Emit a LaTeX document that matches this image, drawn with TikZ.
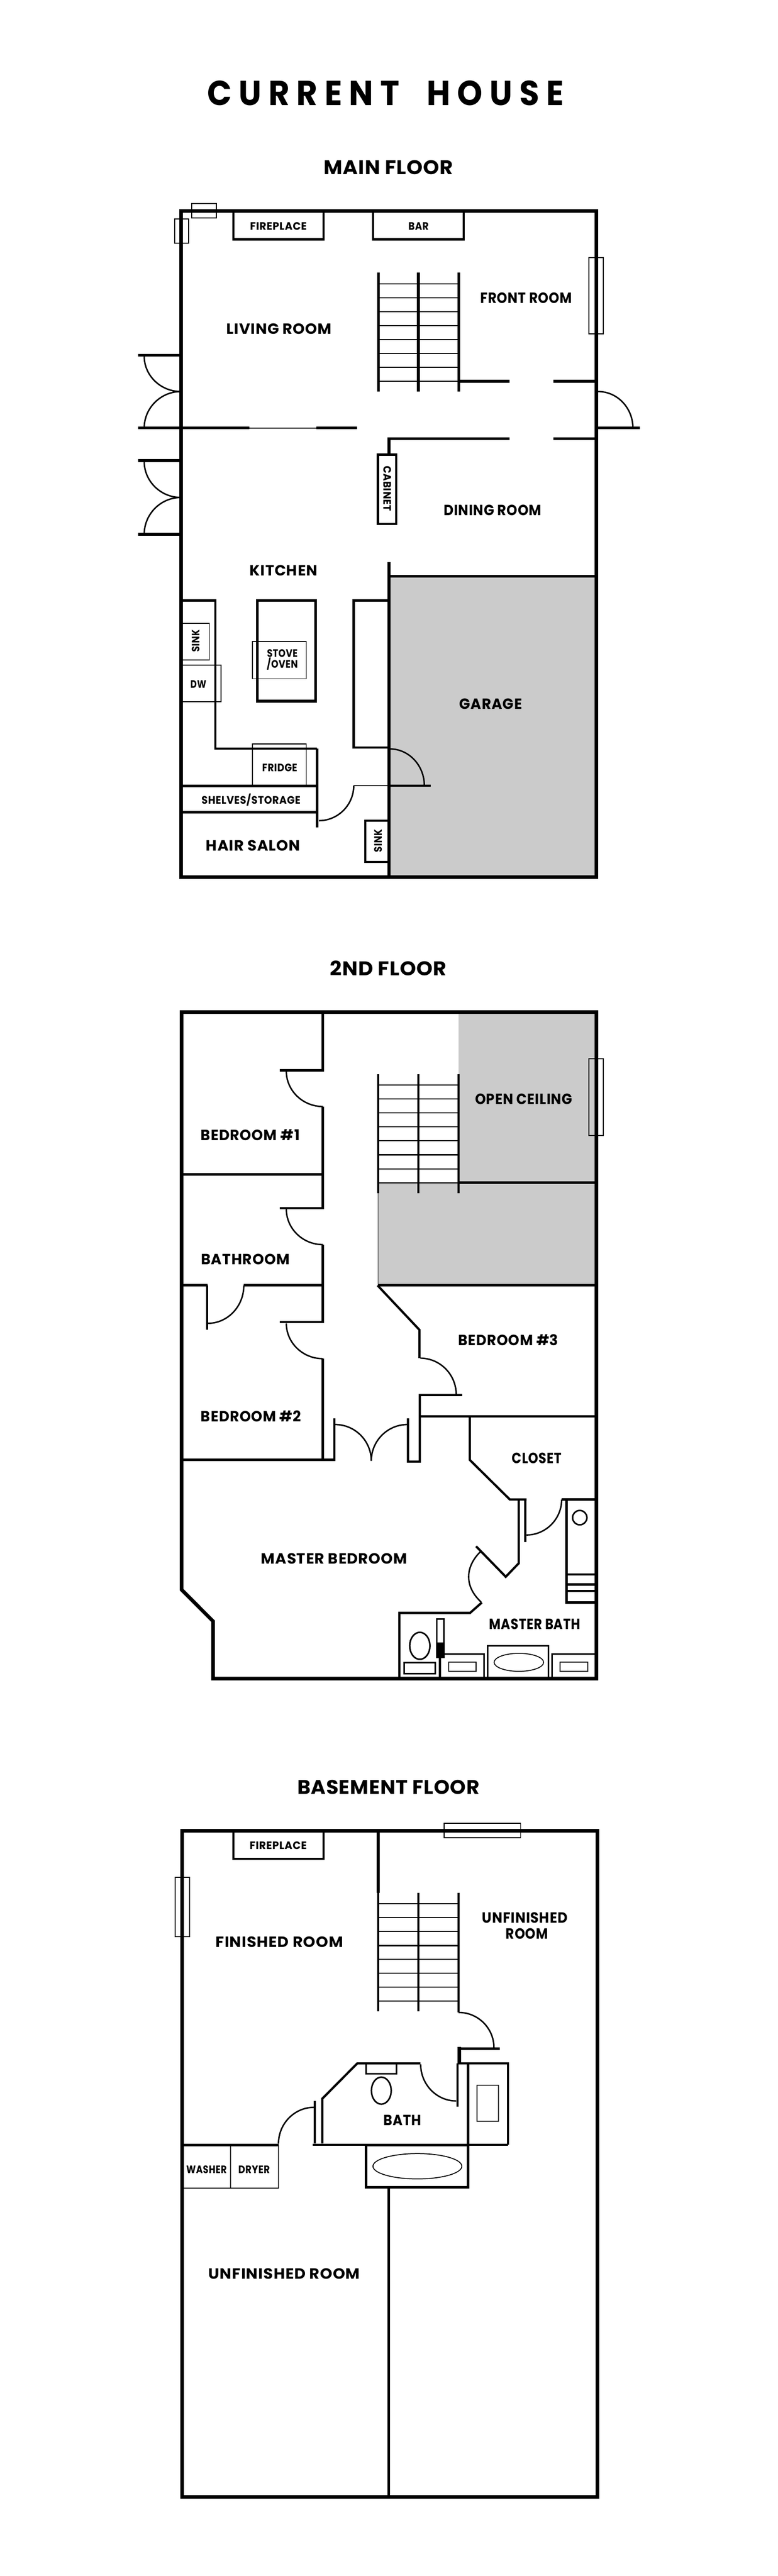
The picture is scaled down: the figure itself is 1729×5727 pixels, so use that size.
\documentclass[tikz,border=0pt]{standalone}
\usepackage{fontspec}
\usepackage{graphicx}
\newfontfamily\planfont{Poppins}
\definecolor{slab}{HTML}{CBCBCB}
\newlength{\px}
\setlength{\px}{0.5pt}
% door swing: leaves the first point level, reaches the second one upright
\newcommand{\swing}[4]{\draw[doorline] (#1,#2) .. controls ({#1+.55*(#3-#1)},#2) and (#3,{#4+.55*(#2-#4)}) .. (#3,#4);}
% label set to a given width in pixels
\newcommand{\fitted}[2]{\resizebox{#1\px}{\height}{#2}}
\begin{document}
\begin{tikzpicture}[x=0.5pt,y=-0.5pt,line join=miter,
    wall/.style={line width=4pt},
    midwall/.style={line width=3pt},
    partition/.style={line width=2.5pt},
    fitting/.style={line width=1.7pt},
    fine/.style={line width=1pt},
    doorline/.style={line width=1.6pt},
    tread/.style={line width=1.2pt},
    labeltext/.style={inner sep=0pt,text depth=0pt},
    titlelabel/.style={labeltext,text height=27pt,font=\planfont\bfseries\fontsize{38.6}{38.6}\selectfont\addfontfeature{LetterSpace=22}},
    floorlabel/.style={labeltext,text height=15.4pt,font=\planfont\bfseries\fontsize{22}{22}\selectfont\addfontfeature{LetterSpace=2}},
    roomlabel/.style={labeltext,text height=11.5pt,font=\planfont\bfseries\fontsize{16.5}{16.5}\selectfont\addfontfeature{LetterSpace=3}},
    fixlabel/.style={labeltext,text height=8.4pt,font=\planfont\bfseries\fontsize{12}{12}\selectfont\addfontfeature{LetterSpace=3}}]
\useasboundingbox (0,0) rectangle (1729,5727);
\node[titlelabel] (title) at (857,207) {\fitted{793}{CURRENT\hspace{16pt} HOUSE}};
% main floor
\node[floorlabel] (mainfloor) at (863.5,372.5) {\fitted{287}{MAIN FLOOR}};
\fill[slab] (864.7,1281) rectangle (1326,1950);
\draw[wall] (402.4,468.7) rectangle (1326,1950);
\draw[fine] (426,452.7) rectangle (481,484.6) (388,487) rectangle (419,541) (1309,572.6) rectangle (1341,742);
\draw[partition] (519,468.7) |- (719,532) -- (719,468.7) (829.5,468.7) |- (1031,532) -- (1031,468.7);
\foreach \x in {841,930,1020}\draw[midwall] (\x,605.8) -- (\x,870.5);
\foreach \y in {631.3,662,693,724,755,785.6,817,847.5}\draw[tread] (841,\y) -- (1020,\y);
\draw[midwall] (1020,847.5) -- (1132.5,847.5) (1230,847.5) -- (1326,847.5);
\draw[midwall] (864.7,1010.8) |- (1132.5,975) (1230,975) -- (1326,975);
\draw[midwall] (307,951.5) -- (554,951.5) (703,951.5) -- (794,951.5);
\draw[fine] (554,951.5) -- (703,951.5);
\draw[midwall] (307,789.5) -- (402.4,789.5) (307,1024) -- (402.4,1024) (307,1187.9) -- (402.4,1187.9) (1326,951.5) -- (1422,951.5);
\swing{402}{870.5}{320.6}{792}
\swing{402}{870.5}{320.6}{951.5}
\swing{402}{1106}{320.6}{1026}
\swing{402}{1106}{320.6}{1187.9}
\swing{1330}{870.5}{1407}{951.5}
\draw[partition] (840,1010.8) rectangle (881,1164.8);
\draw[midwall] (864.7,1250) -- (864.7,1950) (864.7,1281) -- (1326,1281);
\draw[partition] (402.4,1335) -| (479,1664) -- (704,1664);
\draw[midwall] (705,1664) -- (705,1839) (402.4,1747.7) -- (708,1747.7);
\draw[partition] (402.4,1805.8) -- (705,1805.8) (864.7,1334.8) -| (786.4,1661.6) -- (864.7,1661.6);
\draw[fine] (406,1385.7) rectangle (465.7,1467.4) (406,1478.6) -| (491,1559.8) -- (406,1559.8);
\draw[midwall] (572.5,1335) rectangle (701.5,1559);
\draw[fine] (561.4,1426.3) rectangle (680.8,1509) (561.4,1746.4) |- (680.8,1654) -- (680.8,1746.4);
\swing{709}{1824.5}{786.4}{1746.4}
\swing{866.8}{1665}{943.3}{1746.4}
\draw[tread] (786.4,1746.4) -- (864.7,1746.4);
\draw[partition] (864.7,1746.4) -- (958,1746.4) (864.7,1824.5) -| (812.4,1916) -- (864.7,1916);
\node[fixlabel] (fireplace) at (619,502.5) {\fitted{126}{FIREPLACE}};
\node[fixlabel] (bar) at (930.5,502.5) {\fitted{45}{BAR}};
\node[roomlabel] (frontroom) at (1170,663) {\fitted{204}{FRONT ROOM}};
\node[roomlabel] (livingroom) at (620.6,731.4) {\fitted{234}{LIVING ROOM}};
\node[fixlabel,rotate=-90] (cabinet) at (861,1086) {\fitted{100}{CABINET}};
\node[roomlabel] (diningroom) at (1095,1134) {\fitted{217}{DINING ROOM}};
\node[roomlabel] (kitchen) at (630.5,1269) {\fitted{151}{KITCHEN}};
\node[roomlabel] (garage) at (1091,1565) {\fitted{139}{GARAGE}};
\node[fixlabel,rotate=90] (kitchensink) at (435.5,1425) {\fitted{50}{SINK}};
\node[fixlabel] (dw) at (441,1521) {\fitted{35}{DW}};
\node[fixlabel] (stove) at (627.6,1452.7) {\fitted{68}{STOVE}};
\node[fixlabel] (oven) at (627.6,1477) {\fitted{69}{/OVEN}};
\node[fixlabel] (fridge) at (621.9,1707) {\fitted{78}{FRIDGE}};
\node[fixlabel] (shelves) at (558,1779) {\fitted{220}{SHELVES/STORAGE}};
\node[fixlabel,rotate=90] (salonsink) at (840.4,1869) {\fitted{51}{SINK}};
\node[roomlabel] (hairsalon) at (562.5,1880.3) {\fitted{209}{HAIR SALON}};
% 2nd floor
\node[floorlabel] (secondfloor) at (863.5,2153) {\fitted{259}{2ND FLOOR}};
\fill[slab] (1019.6,2250) rectangle (1326,2629.4) (840.8,2629.4) rectangle (1326,2857.3);
\draw[wall] (473.8,3731.8) -- (1326,3731.8) -- (1326,2250) -- (403.5,2250) -- (403.5,3534) -- (473.8,3604.4) -- cycle;
\draw[fine] (1308.8,2353.9) rectangle (1341,2524.3);
\foreach \x in {840.8,929.8,1019.6}\draw[partition] (\x,2387.7) -- (\x,2652.3);
\foreach \y in {2412.4,2443.4,2474.4,2505.4,2536.4,2567.4,2598.4,2629.4}\draw[tread] (840.8,\y) -- (1019.6,\y);
\draw[fine,gray] (840.8,2652.3) -- (840.8,2857.3);
\draw[midwall] (1019.6,2629.4) -- (1326,2629.4) (840.8,2857.3) -- (1326,2857.3);
\draw[partition] (717.6,2250) |- (621.8,2379.7) (717.6,2460) |- (621.8,2685.6) (717.6,2767) |- (621.8,2939.3);
\draw[partition] (403.5,2611) -- (717.6,2611) (403.5,2857.3) -- (461.8,2857.3) (542,2857.3) -- (717.6,2857.3);
\draw[partition] (717.6,3020.6) |- (743,3245.6) -- (743,3153.4) (403.5,3245.6) -- (743,3245.6);
\draw[partition] (460.4,2857.3) -- (460.4,2956.6);
\draw[partition] (839.4,2857.8) -- (932.5,2956.6) -- (932.5,3019.5) (933.2,3249.4) |- (1027.6,3101.4) (907,3153.4) |- (933.2,3249.4) -- (933.2,3149);
\draw[partition] (933.2,3149) -- (1326,3149) (1044.3,3149) -- (1044.3,3245.6) -- (1133.4,3333.7) -- (1170.4,3333.7);
\swing{717.6}{2460}{636.5}{2381.4}
\swing{717.6}{2767}{636.5}{2688}
\swing{717.6}{3020.6}{636.5}{2942}
\swing{462.4}{2942}{542}{2858}
\swing{745}{3167}{825.4}{3247.7}
\swing{905.7}{3167}{825.4}{3247.7}
\swing{934.5}{3019.5}{1014.2}{3100.3}
\draw[partition] (1153.1,3333.7) -- (1153.1,3475.6) -- (1124.3,3505.5) -- (1058.3,3437.7) (1167.7,3333.7) -- (1167.7,3428.4);
\swing{1170.4}{3412.6}{1248.6}{3333.7}
\draw[doorline] (1067.3,3450.4) .. controls (1033,3485) and (1033,3528) .. (1069.6,3561.7);
\draw[partition] (1248.6,3333.7) -- (1326,3333.7) (1259.2,3333.7) -- (1259.2,3562.7) -- (1326,3562.7) (1259.2,3500) -- (1326,3500) (1259.2,3522.8) -- (1326,3522.8) (1259.2,3536.9) -- (1326,3536.9);
\draw[fitting] (1288.8,3374) circle[radius=16];
\draw[partition] (887.9,3731.8) |- (1045,3585.8) -- (1071.2,3562.7) (978,3684.6) -- (978,3731.8);
\draw[fitting] (933.3,3659) ellipse[x radius=22.5,y radius=30] (898.5,3696.3) rectangle (967.8,3721) (971,3599.6) rectangle (987,3684.6);
\fill (971,3651) rectangle (987,3684.6);
\draw[fitting] (978,3677.7) -| (1076.2,3731.8) (1084.2,3731.8) |- (1219.8,3659) -- (1219.8,3731.8) (1227.4,3731.8) |- (1326,3677.7);
\draw[fine] (997.3,3695.3) rectangle (1058.3,3715.6) (1245,3695.3) rectangle (1306.7,3715.6) (1153.5,3695.7) ellipse[x radius=55,y radius=20];
\node[roomlabel] (bedroomone) at (556.2,2524.3) {\fitted{220}{BEDROOM \#1}};
\node[roomlabel] (bathroom) at (545.5,2799.3) {\fitted{197}{BATHROOM}};
\node[roomlabel] (openceiling) at (1164.2,2443.4) {\fitted{216}{OPEN CEILING}};
\node[roomlabel] (bedroomthree) at (1130,2979.5) {\fitted{222}{BEDROOM \#3}};
\node[roomlabel] (bedroomtwo) at (558.2,3149.6) {\fitted{223}{BEDROOM \#2}};
\node[roomlabel] (closet) at (1193.6,3241.8) {\fitted{111}{CLOSET}};
\node[roomlabel] (masterbedroom) at (743,3465.7) {\fitted{325}{MASTER BEDROOM}};
\node[roomlabel] (masterbath) at (1189,3610.6) {\fitted{203}{MASTER BATH}};
% basement floor
\node[floorlabel] (basementfloor) at (863.5,3973) {\fitted{405}{BASEMENT FLOOR}};
\draw[wall] (404.9,4070) rectangle (1328,5551);
\draw[fine] (987.4,4053.6) rectangle (1157.5,4085.7) (389.5,4173.5) rectangle (421.6,4305.6);
\draw[partition] (518.7,4070) |- (719.6,4132.6) -- (719.6,4070);
\draw[midwall] (840.8,4070) -- (840.8,4207.6);
\foreach \x in {840.8,929.8}\draw[partition] (\x,4207.6) -- (\x,4471.4);
\draw[partition] (1019.6,4207.6) -- (1019.6,4474);
\foreach \y in {4232,4263.3,4294.4,4325.5,4356,4386.7,4417.9,4449}\draw[tread] (840.8,\y) -- (1019.6,\y);
\swing{1019.6}{4474}{1098}{4552}
\swing{1014}{4670.8}{935.2}{4589.5}
\draw[partition] (1021,4554.7) -- (1111,4554.7) (1017,4587.2) -- (1017,4684) (1017,4587.2) -| (1129.5,4768.6);
\draw[wall] (1021,4550.7) -- (1021,4590);
\draw[partition] (934.6,4587.2) -- (794.3,4587.2) -- (716.4,4665.8) -- (716.4,4765.3) (699.8,4670.8) -- (699.8,4765.3);
\draw[fitting] (813.9,4587.2) |- (881.5,4610.4) -- (881.5,4587.2) (847.7,4647.9) ellipse[x radius=22,y radius=30];
\swing{698}{4685}{619.1}{4765.6}
\draw[partition] (695.8,4768.6) -- (1129.5,4768.6) (406,4769) -- (619.1,4769) (1040.7,4587.2) -- (1040.7,4768.6);
\draw[midwall] (813.5,4768.6) rectangle (1040.7,4863);
\draw[fine] (927.9,4816) ellipse[x radius=98.8,y radius=28.2] (1060.2,4636) rectangle (1108.3,4716.2) (406,4864.7) -| (619.1,4769) (512.7,4769) -- (512.7,4864.7);
\draw[midwall] (864.2,4863) -- (864.2,5551);
\node[fixlabel] (basefireplace) at (618.5,4103) {\fitted{127}{FIREPLACE}};
\node[roomlabel] (finishedroom) at (621,4317.3) {\fitted{283}{FINISHED ROOM}};
\node[roomlabel] (unfinishedfront) at (1166.9,4263.8) {\fitted{190}{UNFINISHED}};
\node[roomlabel] (unfinishedroom) at (1171.6,4299) {\fitted{94}{ROOM}};
\node[roomlabel] (bath) at (894.8,4714.2) {\fitted{84}{BATH}};
\node[fixlabel] (washer) at (459.1,4823.2) {\fitted{90}{WASHER}};
\node[fixlabel] (dryer) at (564.9,4823.2) {\fitted{70}{DRYER}};
\node[roomlabel] (unfinishedback) at (631.9,5054.9) {\fitted{337}{UNFINISHED ROOM}};
\end{tikzpicture}
\end{document}
